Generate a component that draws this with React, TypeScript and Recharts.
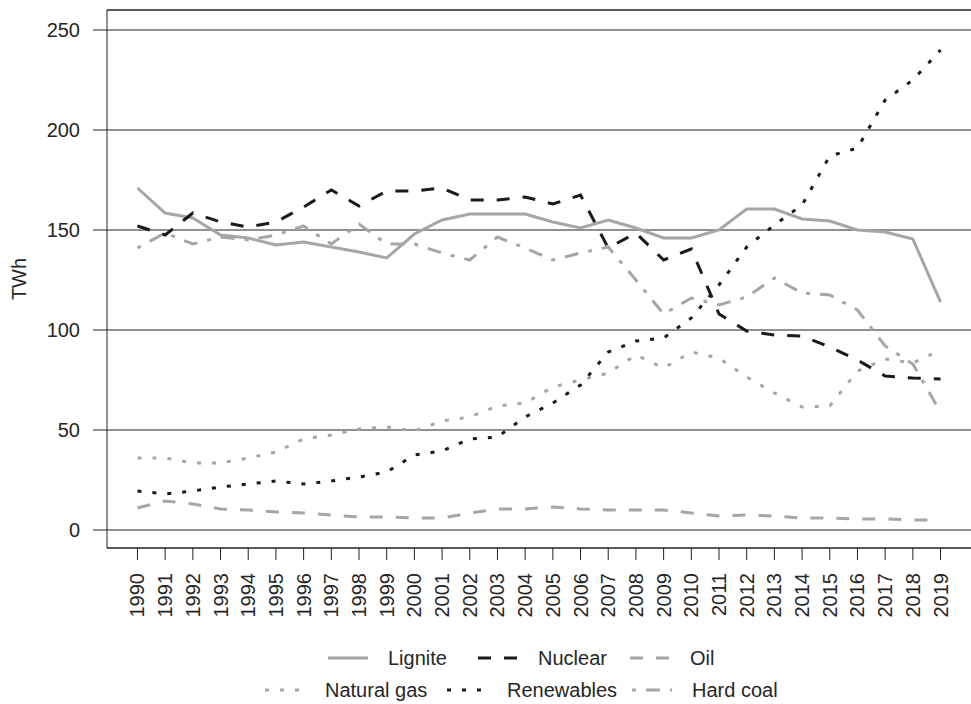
import React from "react";
import {
  LineChart,
  Line,
  XAxis,
  YAxis,
  CartesianGrid,
  ReferenceLine,
} from "recharts";

const years = [
  1990, 1991, 1992, 1993, 1994, 1995, 1996, 1997, 1998, 1999, 2000, 2001,
  2002, 2003, 2004, 2005, 2006, 2007, 2008, 2009, 2010, 2011, 2012, 2013,
  2014, 2015, 2016, 2017, 2018, 2019,
];

const lignite = [
  171, 158.5, 156, 147.5, 146, 142.5, 144, 141.5, 139, 136, 148, 155, 158,
  158, 158, 154, 151, 155, 151, 146, 146, 150, 160.5, 160.5, 155.5, 154.5,
  150, 149, 145.5, 114,
];
const nuclear = [
  152, 147.5, 158.5, 154, 151.5, 154, 161.5, 170, 162, 169.5, 169.5, 171,
  165, 165, 166.5, 163, 167.5, 141, 148.5, 135, 140.5, 108, 99.5, 97.5, 97,
  91.5, 85, 77, 76, 75.5,
];
const oil = [
  11, 14.5, 13, 10.5, 10, 9, 8.5, 7.5, 6.5, 6.5, 6, 6, 8.5, 10.5, 10.5, 11.5,
  10.5, 10, 10, 10, 8.5, 7, 7.5, 7, 6, 6, 5.5, 5.5, 5, 5,
];
const naturalGas = [
  36, 36, 33.5, 33.5, 36, 39, 45.5, 47.5, 50.5, 51.5, 49.5, 54.5, 56.5, 62,
  63.5, 71.5, 75, 78.5, 87.5, 81, 89, 86, 76.5, 68.5, 61.5, 62, 79.5, 85.5,
  83.5, 90,
];
const renewables = [
  19.5, 18, 19.5, 21.5, 23, 24.5, 23, 24.5, 26.5, 29, 37.5, 39.5, 45.5, 46.5,
  56.5, 63.5, 72.5, 89, 94.5, 96, 106, 122.5, 141.5, 152.5, 162.5, 187, 191,
  215, 225, 240,
];
const hardCoal = [
  141, 148.5, 143, 146.5, 145, 147.5, 152, 143, 153, 143, 143, 138.5, 135,
  146.5, 141, 135, 138.5, 141.5, 125, 108, 116, 112.5, 116.5, 126, 118.5,
  117.5, 110, 92, 83, 59,
];

const yTicks = [0, 50, 100, 150, 200, 250];

const GRAY = "#a6a6a6";
const BLACK = "#1a1a1a";
const FONT = "'Liberation Sans', Arial, sans-serif";
const TEXT = "#262626";

const data = years.map((year, i) => ({
  year,
  lignite: lignite[i],
  nuclear: nuclear[i],
  oil: oil[i],
  naturalGas: naturalGas[i],
  renewables: renewables[i],
  hardCoal: hardCoal[i],
}));

// one entry per series: key, legend name, colour, dash pattern
const series = [
  { key: "lignite", name: "Lignite", color: GRAY, dash: undefined },
  { key: "nuclear", name: "Nuclear", color: BLACK, dash: "13 13" },
  { key: "oil", name: "Oil", color: GRAY, dash: "13 13" },
  { key: "naturalGas", name: "Natural gas", color: GRAY, dash: "4 11" },
  { key: "renewables", name: "Renewables", color: BLACK, dash: "4 11" },
  { key: "hardCoal", name: "Hard coal", color: GRAY, dash: "4 10 14 10" },
];

// text left edges for the two legend rows
const legendRows = [
  { top: 658, items: [0, 1, 2], textX: [388, 538, 690] },
  { top: 690, items: [3, 4, 5], textX: [325, 507, 692] },
];

function YearTick(props: any) {
  const { x, y, payload } = props;
  return (
    <text
      transform={`translate(${x},${y}) rotate(-90)`}
      textAnchor="end"
      dominantBaseline="central"
      fontSize={20}
      fontFamily={FONT}
      fill={TEXT}
    >
      {payload.value}
    </text>
  );
}

function LegendBlock() {
  return (
    <>
      {legendRows.map((row, r) =>
        row.items.map((idx, j) => {
          const s = series[idx];
          const tx = row.textX[j];
          return (
            <div key={`${r}-${j}`}>
              <svg
                width={40}
                height={8}
                style={{ position: "absolute", left: tx - 60, top: row.top - 4 }}
              >
                <line
                  x1={0}
                  y1={4}
                  x2={40}
                  y2={4}
                  stroke={s.color}
                  strokeWidth={3}
                  strokeDasharray={s.dash}
                />
              </svg>
              <div
                style={{
                  position: "absolute",
                  left: tx,
                  top: row.top - 12,
                  fontSize: 20,
                  lineHeight: "24px",
                  fontFamily: FONT,
                  color: TEXT,
                  whiteSpace: "nowrap",
                }}
              >
                {s.name}
              </div>
            </div>
          );
        })
      )}
    </>
  );
}

export default function App() {
  return (
    <div
      style={{
        position: "absolute",
        left: 0,
        top: 0,
        width: 971,
        height: 704,
        background: "#fff",
        overflow: "hidden",
      }}
    >
      <LineChart
        width={971}
        height={704}
        data={data}
        margin={{ top: 10, right: 0, left: 47, bottom: 56 }}
      >
        <CartesianGrid vertical={false} stroke="#222" strokeWidth={1} />
        <ReferenceLine y={260} stroke="#222" strokeWidth={1} />
        <XAxis
          dataKey="year"
          type="number"
          domain={[1988.9, 2020.1]}
          allowDataOverflow
          ticks={years}
          interval={0}
          height={100}
          tickSize={12}
          tickMargin={13}
          axisLine={{ stroke: "#222", strokeWidth: 1 }}
          tickLine={{ stroke: "#222" }}
          tick={<YearTick />}
        />
        <YAxis
          type="number"
          domain={[-9, 260]}
          allowDataOverflow
          ticks={yTicks}
          width={60}
          tickSize={14}
          tickMargin={13}
          axisLine={{ stroke: "#222", strokeWidth: 1 }}
          tickLine={{ stroke: "#222" }}
          tick={{ fontSize: 20, fontFamily: FONT, fill: TEXT }}
          label={{
            value: "TWh",
            angle: -90,
            position: "insideLeft",
            dx: -33,
            style: { fontSize: 20, fontFamily: FONT, fill: TEXT, textAnchor: "middle" },
          }}
        />
        {series.map((s) => (
          <Line
            key={s.key}
            type="linear"
            dataKey={s.key}
            name={s.name}
            stroke={s.color}
            strokeWidth={3}
            strokeDasharray={s.dash}
            dot={false}
            activeDot={false}
            isAnimationActive={false}
          />
        ))}
      </LineChart>
      <LegendBlock />
    </div>
  );
}
